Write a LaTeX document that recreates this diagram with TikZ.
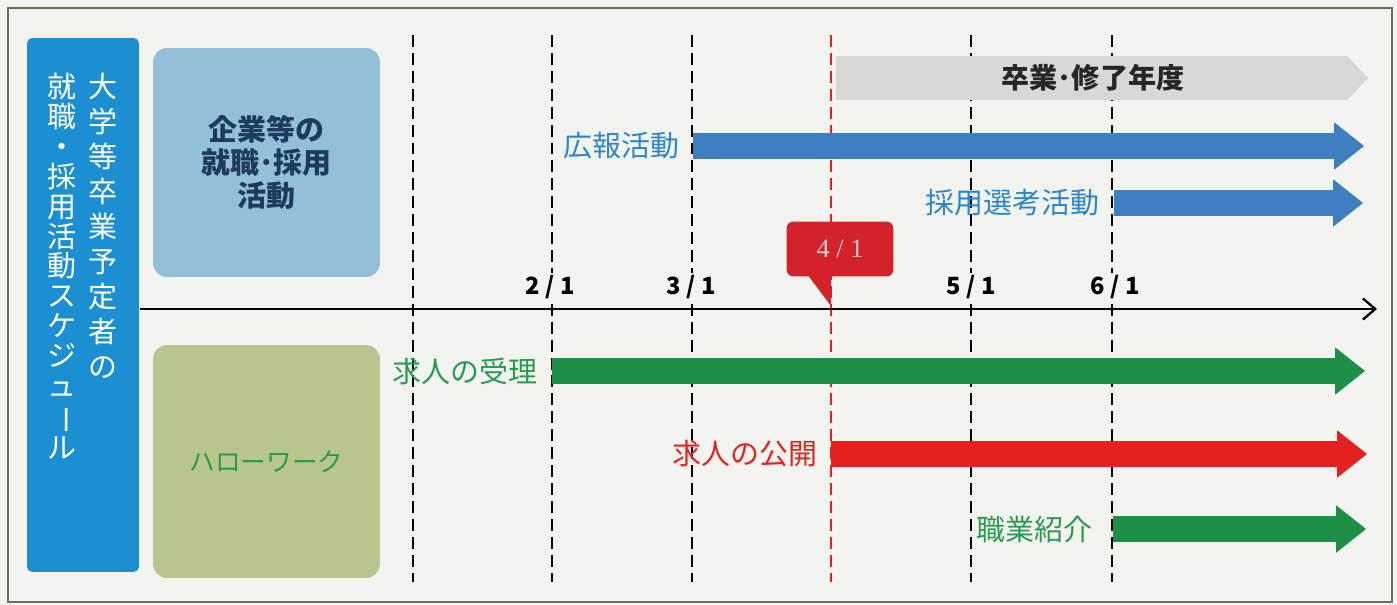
\documentclass[tikz,border=0pt]{standalone}
\usepackage{fontspec}
\usepackage{graphicx}
\setmainfont{Noto Sans CJK JP}
\newfontfamily\numserif{Liberation Serif}
\usetikzlibrary{arrows.meta,positioning}

\definecolor{paper}{HTML}{F3F3F0}
\definecolor{framegray}{HTML}{66705F}
\definecolor{titleblue}{HTML}{1B8FD2}
\definecolor{boxblue}{HTML}{93BFD9}
\definecolor{boxgreen}{HTML}{B8C68E}
\definecolor{navy}{HTML}{1D3B5C}
\definecolor{bargray}{HTML}{D8D8D6}
\definecolor{barblue}{HTML}{3D7FBF}
\definecolor{bargreen}{HTML}{1D8F47}
\definecolor{barred}{HTML}{E3211F}
\definecolor{txtblue}{HTML}{2B86CC}
\definecolor{txtgreen}{HTML}{2A9A50}
\definecolor{txtred}{HTML}{E02424}
\definecolor{calloutred}{HTML}{D3222A}

\tikzset{
  dashline/.style={line width=1.4pt, dash pattern=on 6.8pt off 3.4pt},
  bar/.style={line width=15.3pt, -{Triangle[length=17pt,width=27pt,line width=0pt]}},
  lbl/.style={inner sep=0pt, font=\fontsize{16.5}{18}\selectfont},
  datelbl/.style={fill=paper, inner sep=1pt, font=\bfseries\fontsize{13.5}{15}\selectfont},
  tatecol/.style={text=white, align=center, inner sep=0pt, anchor=north},
  sidebox/.style={rounded corners=8pt, minimum width=4.54cm, align=center}
}

\begin{document}
\begin{tikzpicture}[x=0.02cm, y=-0.02cm]
  %%%%% START %%%%%
  \useasboundingbox (0,0) rectangle (1397,605);
  \fill[paper] (0,0) rectangle (1397,605);
  \draw[framegray, line width=0.9pt] (8,8) rectangle (1392,602);

  % title column
  \node (title) [fill=titleblue, rounded corners=3pt, minimum width=2.24cm, minimum height=10.68cm] at (83,305) {};
  \node (col1) [tatecol, font=\fontsize{16.5}{19.9}\selectfont] at (103,73)
    {大\\学\\等\\卒\\業\\予\\定\\者\\の};
  \node (col2) [tatecol, font=\fontsize{16.5}{17}\selectfont] at (62,73)
    {就\\職\\・\\採\\用\\活\\動\\ス\\ケ\\ジ\\ュ\\\rotatebox[origin=c]{-90}{ー}\\ル};

  % side boxes
  \node (kigyo) [sidebox, fill=boxblue, minimum height=4.58cm, text=navy,
    font=\bfseries\fontsize{16.5}{18.7}\selectfont] at (266.5,162.5) {企業等の\\就職･採用\\活動};
  \node (hw) [sidebox, fill=boxgreen, minimum height=4.66cm, text=txtgreen,
    font=\fontsize{14.6}{16}\selectfont] at (266.5,461.5) {ハローワーク};

  % date lines
  \foreach \x/\c in {413/black, 552/black, 692/black, 831/barred, 971/black, 1112/black}
    \draw[dashline, \c] (\x,35) -- (\x,582);

  % time axis
  \coordinate (ax0) at (140,309);
  \coordinate (ax1) at (1377,309);
  \draw[line width=1.3pt, -{Straight Barb[length=7pt,width=12pt]}] (ax0) -- (ax1);

  \node (d21) [datelbl] at (550,287) {2 / 1};
  \node (d31) [datelbl] at (691,287) {3 / 1};
  \node (d51) [datelbl] at (971,287) {5 / 1};
  \node (d61) [datelbl] at (1115,287) {6 / 1};

  % 4/1 callout
  \fill[calloutred] (807,274) -- (831,306) -- (831,274) -- cycle;
  \node (d41) [fill=calloutred, rounded corners=4pt, minimum width=2.14cm, minimum height=1.1cm,
    text=red!20, font=\numserif\fontsize{15}{16}\selectfont] at (840,249) {4 / 1};

  % graduation year
  \coordinate (g0) at (836,78);
  \coordinate (g1) at (1368,78);
  \draw[bargray, line width=25.5pt, -{Triangle[length=12pt,width=25.5pt,line width=0pt]}] (g0) -- (g1);
  \node (nendo) [font=\bfseries\fontsize{16}{18}\selectfont, text=black!85] at (1093,78) {卒業･修了年度};

  % company side
  \coordinate (k0) at (693,146);
  \coordinate (k1) at (1364,146);
  \draw[bar, barblue] (k0) -- (k1);
  \node (kouhou) [lbl, text=txtblue, left=0.26cm of k0] {広報活動};

  \coordinate (s0) at (1114,203);
  \coordinate (s1) at (1363,203);
  \draw[bar, barblue] (s0) -- (s1);
  \node (senkou) [lbl, text=txtblue, left=0.28cm of s0] {採用選考活動};

  % hello work side
  \coordinate (j0) at (552,371);
  \coordinate (j1) at (1365,371);
  \draw[bar, bargreen] (j0) -- (j1);
  \node (juri) [lbl, text=txtgreen, left=0.28cm of j0] {求人の受理};

  \coordinate (p0) at (831,454);
  \coordinate (p1) at (1367,454);
  \draw[bar, barred] (p0) -- (p1);
  \node (koukai) [lbl, text=txtred, left=0.26cm of p0] {求人の公開};

  \coordinate (c0) at (1113,529);
  \coordinate (c1) at (1366,529);
  \draw[bar, bargreen] (c0) -- (c1);
  \node (shokai) [lbl, text=txtgreen, left=0.4cm of c0] {職業紹介};
  %%%%% END %%%%%
\end{tikzpicture}
\end{document}
